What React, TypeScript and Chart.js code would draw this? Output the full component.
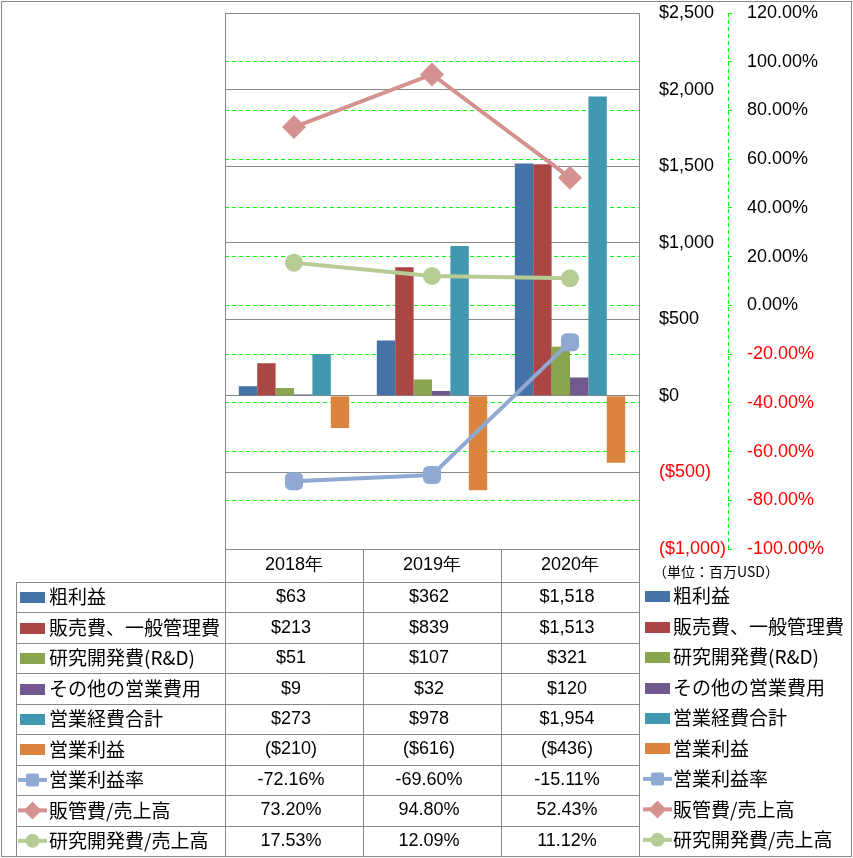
import React, { useEffect, useRef } from 'react';
import { Chart, registerables } from 'chart.js';

Chart.register(...registerables);

const years = ['2018年', '2019年', '2020年'];
const grossProfit = [63, 362, 1518];
const sgaExpense = [213, 839, 1513];
const rndExpense = [51, 107, 321];
const otherOpex = [9, 32, 120];
const totalOpex = [273, 978, 1954];
const operatingIncome = [-210, -616, -436];
const operatingMargin = [-72.16, -69.6, -15.11];
const sgaRatio = [73.2, 94.8, 52.43];
const rndRatio = [17.53, 12.09, 11.12];

const seriesNames = [
  '粗利益',
  '販売費、一般管理費',
  '研究開発費(R&D)',
  'その他の営業費用',
  '営業経費合計',
  '営業利益',
  '営業利益率',
  '販管費/売上高',
  '研究開発費/売上高',
];
const unitLabel = '（単位：百万USD）';

const barColors = ['#4572A7', '#AA4643', '#89A54E', '#71588F', '#4198AF', '#DB843D'];
const lineColors = ['#8FA9D2', '#D39190', '#B6CC94'];
const lineStyles = ['square', 'diamond', 'circle'];

const GRAY = '#888888';
const NUM_FONT = '18px "Liberation Sans"';
const JP_FONT = '19px "Noto Sans CJK JP"';

const fmtMoney = (v: number) =>
  v < 0 ? `($${Math.abs(v).toLocaleString('en-US')})` : `$${v.toLocaleString('en-US')}`;
const fmtPct = (v: number) => `${v.toFixed(2)}%`;

function drawMarker(ctx: CanvasRenderingContext2D, kind: string, x: number, y: number, color: string) {
  ctx.fillStyle = color;
  ctx.beginPath();
  if (kind === 'square') {
    const s = 13;
    ctx.roundRect(x - s / 2, y - s / 2, s, s, 2);
  } else if (kind === 'diamond') {
    const r = 9;
    ctx.moveTo(x, y - r);
    ctx.lineTo(x + r, y);
    ctx.lineTo(x, y + r);
    ctx.lineTo(x - r, y);
    ctx.closePath();
  } else {
    ctx.arc(x, y, 7, 0, Math.PI * 2);
  }
  ctx.fill();
}

function drawKey(ctx: CanvasRenderingContext2D, idx: number, x0: number, cy: number) {
  if (idx < barColors.length) {
    ctx.fillStyle = barColors[idx];
    ctx.fillRect(x0, Math.round(cy) - 5, 25, 11);
  } else {
    const li = idx - barColors.length;
    ctx.strokeStyle = lineColors[li];
    ctx.lineWidth = 4;
    ctx.beginPath();
    ctx.moveTo(x0 - 2, cy);
    ctx.lineTo(x0 + 27, cy);
    ctx.stroke();
    drawMarker(ctx, lineStyles[li], x0 + 12.5, cy, lineColors[li]);
  }
}

const tablePlugin = {
  id: 'dataTable',
  afterDraw(chart: any) {
    const { ctx, chartArea: ca, scales } = chart;
    const xs = scales.x;
    const y1 = scales.y1;
    const headerH = 33;
    const rowH = 30.45;
    const tTop = ca.bottom;
    const firstRow = tTop + headerH;
    const nRows = seriesNames.length;
    const bottom = firstRow + nRows * rowH;
    const colW = (ca.right - ca.left) / years.length;
    const tableLeft = 16;

    const rowValues: string[][] = [
      grossProfit.map(fmtMoney),
      sgaExpense.map(fmtMoney),
      rndExpense.map(fmtMoney),
      otherOpex.map(fmtMoney),
      totalOpex.map(fmtMoney),
      operatingIncome.map(fmtMoney),
      operatingMargin.map(fmtPct),
      sgaRatio.map(fmtPct),
      rndRatio.map(fmtPct),
    ];

    ctx.save();
    // secondary axis dashed line
    ctx.strokeStyle = '#00FF00';
    ctx.lineWidth = 1;
    ctx.setLineDash([4, 3]);
    ctx.beginPath();
    const ax = Math.round(y1.left) + 0.5;
    ctx.moveTo(ax, ca.top);
    ctx.lineTo(ax, ca.bottom);
    ctx.stroke();
    ctx.setLineDash([]);

    ctx.strokeStyle = GRAY;
    ctx.lineWidth = 1;
    // plot border
    ctx.strokeRect(Math.round(ca.left) + 0.5, Math.round(ca.top) + 0.5, Math.round(ca.right - ca.left), Math.round(ca.bottom - ca.top));
    // outer border
    ctx.strokeRect(1.5, 1.5, 850, 855);

    ctx.beginPath();
    for (let i = 0; i <= years.length; i++) {
      const xx = Math.round(ca.left + i * colW) + 0.5;
      ctx.moveTo(xx, tTop);
      ctx.lineTo(xx, bottom);
    }
    for (let i = 0; i <= nRows; i++) {
      const yy = Math.round(firstRow + i * rowH) + 0.5;
      ctx.moveTo(tableLeft + 0.5, yy);
      ctx.lineTo(ca.right, yy);
    }
    ctx.moveTo(tableLeft + 0.5, firstRow);
    ctx.lineTo(tableLeft + 0.5, bottom);
    ctx.stroke();

    ctx.textBaseline = 'middle';
    ctx.fillStyle = '#000';
    ctx.font = NUM_FONT;
    ctx.textAlign = 'center';
    years.forEach((yr, i) => {
      ctx.fillText(yr, xs.getPixelForValue(i), tTop + headerH / 2);
    });

    for (let r = 0; r < nRows; r++) {
      const cy = firstRow + r * rowH + rowH / 2;
      drawKey(ctx, r, 20, cy);
      ctx.fillStyle = '#000';
      ctx.font = JP_FONT;
      ctx.textAlign = 'left';
      ctx.fillText(seriesNames[r], 49, cy);
      ctx.font = NUM_FONT;
      ctx.textAlign = 'center';
      rowValues[r].forEach((v, i) => {
        ctx.fillText(v, xs.getPixelForValue(i) - 3, cy);
      });
      // right legend
      drawKey(ctx, r, 645, cy - 1);
      ctx.fillStyle = '#000';
      ctx.font = JP_FONT;
      ctx.textAlign = 'left';
      ctx.fillText(seriesNames[r], 673, cy - 1);
    }

    ctx.font = '14px "Noto Sans CJK JP"';
    ctx.textAlign = 'left';
    ctx.fillStyle = '#000';
    ctx.fillText(unitLabel, 653, 572);
    ctx.restore();
  },
};

export default function App() {
  const ref = useRef<HTMLCanvasElement | null>(null);

  useEffect(() => {
    if (!ref.current) return;
    const barSeries = [grossProfit, sgaExpense, rndExpense, otherOpex, totalOpex, operatingIncome];
    const lineSeries = [operatingMargin, sgaRatio, rndRatio];
    const pointStyles = ['rectRounded', 'rectRot', 'circle'];
    const pointRadii = [10.5, 12, 9];

    const datasets: any[] = [];
    lineSeries.forEach((d, i) => {
      datasets.push({
        type: 'line',
        label: seriesNames[6 + i],
        data: d,
        yAxisID: 'y1',
        borderColor: lineColors[i],
        backgroundColor: lineColors[i],
        borderWidth: 4,
        pointStyle: pointStyles[i],
        pointRadius: pointRadii[i],
        pointBorderWidth: 0,
        pointBackgroundColor: lineColors[i],
        tension: 0,
        order: 0,
      });
    });
    barSeries.forEach((d, i) => {
      datasets.push({
        type: 'bar',
        label: seriesNames[i],
        data: d,
        yAxisID: 'y',
        backgroundColor: barColors[i],
        borderWidth: 0,
        categoryPercentage: 0.8,
        barPercentage: 1.0,
        order: 1,
      });
    });

    const fitY = (w: number) => (s: any) => {
      s.width = w;
      s.paddingTop = 0;
      s.paddingBottom = 0;
    };

    const chart = new Chart(ref.current, {
      type: 'bar',
      data: { labels: years, datasets },
      options: {
        responsive: false,
        animation: false,
        devicePixelRatio: 1,
        layout: { padding: { left: 225, top: 13, right: 0, bottom: 309 } },
        plugins: { legend: { display: false }, tooltip: { enabled: false } },
        scales: {
          x: { type: 'category', display: false, offset: true, grid: { display: false } },
          y: {
            position: 'right',
            min: -1000,
            max: 2500,
            ticks: {
              stepSize: 500,
              padding: 20,
              font: { family: 'Liberation Sans', size: 18 },
              color: (c: any) => (c.tick && c.tick.value < 0 ? '#FF0000' : '#000000'),
              callback: (v: any) => fmtMoney(Number(v)),
            },
            grid: { color: GRAY, lineWidth: 1, drawTicks: false },
            border: { display: true, color: GRAY },
            afterFit: fitY(89),
          },
          y1: {
            position: 'right',
            min: -100,
            max: 120,
            ticks: {
              stepSize: 20,
              padding: 15,
              font: { family: 'Liberation Sans', size: 18 },
              color: (c: any) => (c.tick && c.tick.value < 0 ? '#FF0000' : '#000000'),
              callback: (v: any) => fmtPct(Number(v)),
            },
            grid: { color: '#00FF00', lineWidth: 1, drawTicks: true, tickLength: 4, tickBorderDash: [] },
            border: { display: false, dash: [4, 3] },
            afterFit: fitY(125),
          },
        },
      },
      plugins: [tablePlugin],
    } as any);
    return () => chart.destroy();
  }, []);

  return (
    <div style={{ position: 'absolute', left: 0, top: 0, width: 853, height: 858, background: '#fff' }}>
      <canvas ref={ref} width={853} height={858} style={{ display: 'block' }} />
    </div>
  );
}
